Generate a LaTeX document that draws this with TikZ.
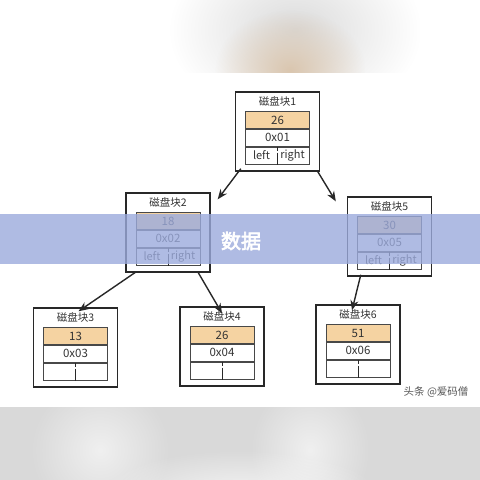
\documentclass[tikz,border=0pt]{standalone}
\usepackage{fontspec}
\newfontfamily\cjk{Noto Sans CJK SC}[AutoFakeBold=3]
\usetikzlibrary{arrows.meta,positioning,fadings}

\definecolor{keyfill}{RGB}{245,211,162}
\definecolor{bandblue}{RGB}{156,171,221}
\definecolor{boxline}{RGB}{40,40,40}
\definecolor{blurtan}{RGB}{218,198,175}

\tikzfading[name=softblob, inner color=transparent!0,
  outer color=transparent!100]

\tikzset{
  outer/.style={draw=boxline, line width=1.4pt, minimum width=84pt,
    minimum height=79pt, inner sep=0pt},
  cell/.style={draw=boxline!85, line width=0.8pt, minimum width=64pt,
    minimum height=17pt, inner sep=0pt,
    font=\cjk\fontsize{11.5}{11.5}\selectfont, text=black!80},
  ttl/.style={font=\cjk\fontsize{10.5}{10.5}\selectfont, text=black!80},
  side/.style={font=\cjk\fontsize{11}{11}\selectfont, text=black!80},
  link/.style={line width=1.4pt, draw=boxline,
    -{Stealth[length=10pt,width=8pt]}},
}

\begin{document}
\begin{tikzpicture}[x=1pt,y=-1pt]
  \useasboundingbox (0,0) rectangle (480,480);
  \fill[white] (0,0) rectangle (480,480);
  % blurred strips at top and bottom
  \begin{scope}
    \clip (0,0) rectangle (480,72);
    \fill[black!14, path fading=softblob] (170,-60) rectangle (420,120);
    \fill[blurtan, path fading=softblob] (215,10) rectangle (365,130);
  \end{scope}
  \begin{scope}
    \clip (0,407) rectangle (480,480);
    \fill[black!15] (0,407) rectangle (480,480);
    \fill[white, opacity=0.6, path fading=softblob] (30,380) rectangle (170,520);
    \fill[white, opacity=0.6, path fading=softblob] (250,380) rectangle (370,520);
    \fill[white, opacity=0.7, path fading=softblob] (100,450) rectangle (380,540);
  \end{scope}

  % disk blocks
  \foreach \n/\cx/\ty/\val/\adr/\kids in {1/277.5/92/26/0x01/1,
      2/168/193/18/0x02/1, 5/389.5/197/30/0x05/1,
      3/75.5/308/13/0x03/0, 4/222/307/26/0x04/0, 6/358/305/51/0x06/0}{
    \node[outer] (b\n) at (\cx,\ty+39.5) {};
    \node[ttl] (t\n) at (\cx,\ty+9) {磁盘块\n};
    \node[cell, fill=keyfill] (k\n) at (\cx,\ty+28) {\val};
    \node[cell, below=0pt of k\n] (p\n) {\adr};
    \node[cell, below=0pt of p\n] (c\n) {};
    \draw[boxline, line width=0.8pt, dash pattern=on 4pt off 2pt on 20pt]
      (c\n.north) -- (c\n.south);
    \ifnum\kids=1
      \node[side] (l\n) at ([xshift=-16pt]c\n.center) {left};
      \node[side] (r\n) at ([xshift=15pt]c\n.center) {right};
    \fi
  }

  \draw[link] ([xshift=6pt,yshift=3pt]b1.south west)
    -- ([xshift=7pt,yshift=-7pt]b2.north east);
  \draw[link] ([xshift=-3pt,yshift=1pt]b1.south east)
    -- ([xshift=-11pt,yshift=-5pt]b5.north west);
  \draw[link] ([xshift=11pt,yshift=1pt]b2.south west)
    -- ([xshift=3pt,yshift=-4pt]b3.north);
  \draw[link] ([xshift=-13pt,yshift=1pt]b2.south east)
    -- ([yshift=-7pt]b4.north);
  \draw[link] ([xshift=14pt,yshift=2pt]b5.south west)
    -- ([xshift=-6pt,yshift=-6pt]b6.north);

  % band and watermark
  \fill[bandblue, opacity=0.8] (0,214) rectangle (480,264);
  \node[font=\cjk\bfseries\fontsize{20}{20}\selectfont, text=white]
    (band) at (241,241) {数据};
  \node[font=\cjk\fontsize{10.5}{10.5}\selectfont, text=black!65, anchor=east]
    (wm) at (472,392) {头条 @爱码僧};
\end{tikzpicture}
\end{document}
